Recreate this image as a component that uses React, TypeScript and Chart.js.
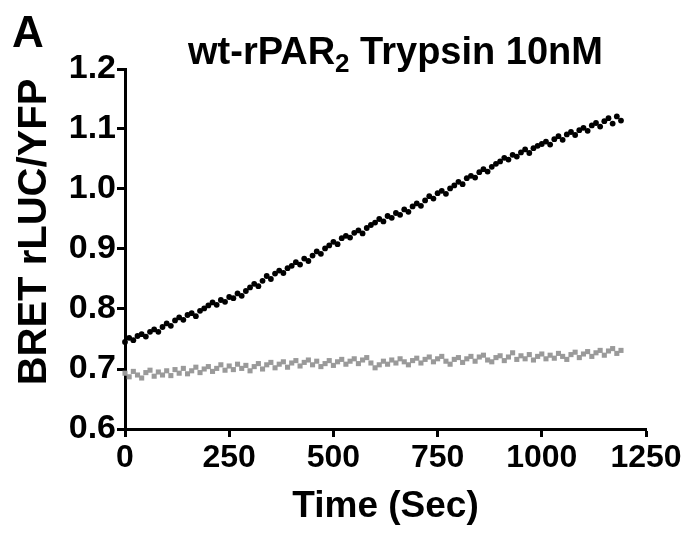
import React, { useEffect, useRef } from "react";
import { Chart, registerables } from "chart.js";

Chart.register(...registerables);

const timeSec = [
  0, 10, 20, 30, 40, 50, 60, 70, 80, 90,
  100, 110, 120, 130, 140, 150, 160, 170, 180, 190,
  200, 210, 220, 230, 240, 250, 260, 270, 280, 290,
  300, 310, 320, 330, 340, 350, 360, 370, 380, 390,
  400, 410, 420, 430, 440, 450, 460, 470, 480, 490,
  500, 510, 520, 530, 540, 550, 560, 570, 580, 590,
  600, 610, 620, 630, 640, 650, 660, 670, 680, 690,
  700, 710, 720, 730, 740, 750, 760, 770, 780, 790,
  800, 810, 820, 830, 840, 850, 860, 870, 880, 890,
  900, 910, 920, 930, 940, 950, 960, 970, 980, 990,
  1000, 1010, 1020, 1030, 1040, 1050, 1060, 1070, 1080, 1090,
  1100, 1110, 1120, 1130, 1140, 1150, 1160, 1170, 1180, 1190,
];

const trypsinBret = [
  0.745, 0.752, 0.748, 0.755, 0.758, 0.754, 0.762, 0.766, 0.762, 0.770,
  0.776, 0.772, 0.781, 0.786, 0.782, 0.790, 0.793, 0.788, 0.797, 0.801,
  0.806, 0.811, 0.807, 0.815, 0.812, 0.820, 0.818, 0.826, 0.822, 0.830,
  0.836, 0.842, 0.838, 0.847, 0.855, 0.850, 0.859, 0.864, 0.860, 0.868,
  0.872, 0.878, 0.874, 0.884, 0.880, 0.889, 0.896, 0.892, 0.901, 0.906,
  0.912, 0.908, 0.918, 0.922, 0.919, 0.927, 0.931, 0.926, 0.935, 0.940,
  0.944, 0.950, 0.946, 0.955, 0.952, 0.960, 0.957, 0.966, 0.962, 0.971,
  0.976, 0.972, 0.981, 0.988, 0.984, 0.993, 0.997, 0.992, 1.001, 1.006,
  1.012, 1.008, 1.018, 1.022, 1.019, 1.028, 1.033, 1.029, 1.037, 1.042,
  1.046, 1.052, 1.049, 1.057, 1.054, 1.061, 1.066, 1.060, 1.068, 1.072,
  1.075, 1.079, 1.074, 1.083, 1.088, 1.082, 1.091, 1.095, 1.090, 1.098,
  1.102, 1.097, 1.106, 1.110, 1.104, 1.113, 1.118, 1.109, 1.121, 1.114,
];

const controlBret = [
  0.693, 0.687, 0.696, 0.690, 0.685, 0.694, 0.698, 0.688, 0.695, 0.690,
  0.697, 0.689, 0.699, 0.693, 0.701, 0.692, 0.697, 0.703, 0.694, 0.700,
  0.704, 0.696, 0.701, 0.707, 0.698, 0.705, 0.699, 0.708, 0.701, 0.706,
  0.697, 0.704, 0.709, 0.700, 0.707, 0.711, 0.702, 0.708, 0.712, 0.703,
  0.710, 0.714, 0.705, 0.711, 0.715, 0.707, 0.713, 0.704, 0.709, 0.714,
  0.706, 0.712, 0.716, 0.708, 0.713, 0.717, 0.709, 0.715, 0.719, 0.710,
  0.702, 0.707, 0.713, 0.708, 0.715, 0.710, 0.717, 0.712, 0.707, 0.714,
  0.718, 0.710, 0.716, 0.720, 0.712, 0.717, 0.721, 0.713, 0.708, 0.716,
  0.719, 0.711, 0.717, 0.721, 0.713, 0.720, 0.723, 0.715, 0.712, 0.719,
  0.722, 0.714, 0.720, 0.727, 0.716, 0.722, 0.717, 0.724, 0.715, 0.721,
  0.725, 0.717, 0.723, 0.718, 0.726, 0.721, 0.716, 0.724, 0.728, 0.719,
  0.725, 0.729, 0.721, 0.727, 0.731, 0.723, 0.730, 0.734, 0.726, 0.731,
];

const xTicks = [0, 250, 500, 750, 1000, 1250];
const yTicks = [0.6, 0.7, 0.8, 0.9, 1.0, 1.1, 1.2];

const titleMain = "wt-rPAR";
const titleSub = "2";
const titleRest = " Trypsin 10nM";
const panelLabel = "A";
const xTitle = "Time (Sec)";
const yTitle = "BRET rLUC/YFP";

const FONT = "'Liberation Sans', Arial, sans-serif";

const textPlugin = {
  id: "panelText",
  afterDraw(chart: any) {
    const ctx = chart.ctx;
    ctx.save();
    ctx.fillStyle = "#000";
    ctx.textBaseline = "alphabetic";
    ctx.textAlign = "left";
    ctx.font = `bold 44px ${FONT}`;
    ctx.fillText(panelLabel, 12, 47);

    const mainFont = `bold 38px ${FONT}`;
    const subFont = `bold 26px ${FONT}`;
    ctx.font = mainFont;
    const w1 = ctx.measureText(titleMain).width;
    const w3 = ctx.measureText(titleRest).width;
    ctx.font = subFont;
    const w2 = ctx.measureText(titleSub).width;
    const total = w1 + w2 + w3;
    const cx = (chart.chartArea.left + chart.chartArea.right) / 2 + 10;
    let x = cx - total / 2;
    const base = 64;
    ctx.font = mainFont;
    ctx.fillText(titleMain, x, base);
    x += w1;
    ctx.font = subFont;
    ctx.fillText(titleSub, x, base + 8);
    x += w2;
    ctx.font = mainFont;
    ctx.fillText(titleRest, x, base);

    // y-axis title, rotated
    ctx.save();
    ctx.translate(35, 232);
    ctx.rotate(-Math.PI / 2);
    ctx.textAlign = "center";
    ctx.textBaseline = "middle";
    ctx.font = `bold 40px ${FONT}`;
    ctx.fillText(yTitle, 0, 0);
    ctx.restore();
    ctx.restore();
  },
};

export default function App() {
  const ref = useRef<HTMLCanvasElement | null>(null);
  useEffect(() => {
    if (!ref.current) return;
    const chart = new Chart(ref.current, {
      type: "scatter",
      data: {
        datasets: [
          {
            label: "Control",
            data: timeSec.map((t, i) => ({ x: t, y: controlBret[i] })),
            pointStyle: "rect",
            pointRadius: 3.6,
            backgroundColor: "#9a9a9a",
            borderWidth: 0,
          },
          {
            label: "Trypsin 10nM",
            data: timeSec.map((t, i) => ({ x: t, y: trypsinBret[i] })),
            pointStyle: "circle",
            pointRadius: 2.9,
            backgroundColor: "#000",
            borderWidth: 0,
          },
        ],
      },
      options: {
        responsive: false,
        animation: false,
        events: [],
        clip: false as any,
        layout: { padding: { top: 69, right: 44, left: 0, bottom: 0 } },
        plugins: {
          legend: { display: false },
          tooltip: { enabled: false },
          title: { display: false },
        },
        scales: {
          x: {
            type: "linear",
            min: 0,
            max: 1250,
            afterFit: (s: any) => {
              s.height = 113;
            },
            afterBuildTicks: (s: any) => {
              s.ticks = xTicks.map((v) => ({ value: v }));
            },
            ticks: {
              color: "#000",
              padding: 2,
              maxRotation: 0,
              font: { family: FONT, weight: "bold", size: 32 },
              callback: (v: any) => String(v),
            },
            grid: {
              drawOnChartArea: false,
              drawTicks: true,
              tickLength: 8,
              tickWidth: 3,
              tickColor: "#000",
            },
            border: { display: true, color: "#000", width: 3 },
            title: {
              display: true,
              text: xTitle,
              color: "#000",
              font: { family: FONT, weight: "bold", size: 37 },
              padding: { top: 0, bottom: 13 },
            },
          },
          y: {
            type: "linear",
            min: 0.6,
            max: 1.2,
            afterFit: (s: any) => {
              s.width = 125;
            },
            afterBuildTicks: (s: any) => {
              s.ticks = yTicks.map((v) => ({ value: v }));
            },
            ticks: {
              color: "#000",
              padding: 1,
              font: { family: FONT, weight: "bold", size: 34 },
              callback: (v: any) => Number(v).toFixed(1),
            },
            grid: {
              drawOnChartArea: false,
              drawTicks: true,
              tickLength: 8,
              tickWidth: 3,
              tickColor: "#000",
            },
            border: { display: true, color: "#000", width: 3 },
            title: { display: false },
          },
        },
      },
      plugins: [textPlugin],
    });
    return () => chart.destroy();
  }, []);
  return (
    <div style={{ position: "fixed", left: 0, top: 0, width: 690, height: 542, background: "#fff" }}>
      <canvas ref={ref} width={690} height={542} style={{ width: 690, height: 542 }} />
    </div>
  );
}
